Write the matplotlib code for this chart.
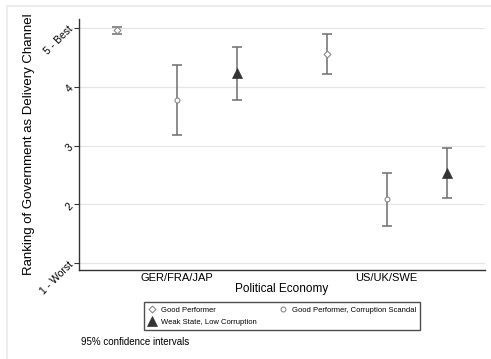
import matplotlib
matplotlib.use("Agg")
import matplotlib.pyplot as plt
from matplotlib.lines import Line2D

plt.rcParams['font.family'] = ['Liberation Sans', 'DejaVu Sans']

groups = ["GER/FRA/JAP", "US/UK/SWE"]
series = ["Good Performer", "Good Performer, Corruption Scandal", "Weak State, Low Corruption"]
means = {
    "Good Performer": [4.96, 4.56],
    "Good Performer, Corruption Scandal": [3.77, 2.09],
    "Weak State, Low Corruption": [4.23, 2.54],
}
lower = {
    "Good Performer": [4.90, 4.22],
    "Good Performer, Corruption Scandal": [3.18, 1.64],
    "Weak State, Low Corruption": [3.77, 2.11],
}
upper = {
    "Good Performer": [5.02, 4.89],
    "Good Performer, Corruption Scandal": [4.37, 2.54],
    "Weak State, Low Corruption": [4.68, 2.96],
}
ytick_vals = [1, 2, 3, 4, 5]
ytick_labels = ["1 - Worst", "2", "3", "4", "5 - Best"]

group_centers = [3, 10]
offsets = [-2, 0, 2]
styles = {
    "Good Performer": dict(marker='D', ms=3.5, mfc='white', mec='#8a8a8a', mew=0.8),
    "Good Performer, Corruption Scandal": dict(marker='o', ms=3.5, mfc='white', mec='#8a8a8a', mew=0.8),
    "Weak State, Low Corruption": dict(marker='^', ms=7, mfc='#333333', mec='#333333', mew=0.5),
}

fig = plt.figure(figsize=(4.91, 3.59), dpi=100)
fig.add_artist(Line2D([7/491, 7/491], [0, 1-6/359], color='#ececec', lw=1.5))
fig.add_artist(Line2D([7/491, 1], [1-6/359, 1-6/359], color='#ececec', lw=1.5))

ax = fig.add_axes([79/491, 1-270/359, 406/491, 251/359])
for s, off in zip(series, offsets):
    xs = [c + off for c in group_centers]
    m = means[s]
    yerr = [[mi - lo for mi, lo in zip(m, lower[s])], [up - mi for mi, up in zip(m, upper[s])]]
    ax.errorbar(xs, m, yerr=yerr, fmt='none', ecolor='#6e6e6e', elinewidth=1.1, capsize=3.5, capthick=1.1, zorder=2)
    ax.plot(xs, m, linestyle='none', zorder=3, **styles[s])

ax.set_xlim(-0.257, 13.28)
ax.set_ylim(0.886, 5.153)
ax.set_yticks(ytick_vals)
ax.set_yticklabels(ytick_labels, fontsize=7.5)
for lab in ax.get_yticklabels():
    lab.set_rotation(45)
    lab.set_rotation_mode('anchor')
    lab.set_ha('right')
    lab.set_va('center')
ax.set_xticks(group_centers)
ax.set_xticklabels(groups, fontsize=8)
ax.tick_params(axis='x', length=0, pad=2)
ax.tick_params(axis='y', length=3.6, width=0.8, color='#333333', pad=2)
ax.grid(axis='y', color='#e6e6e6', lw=0.9)
ax.set_axisbelow(True)
for sp in ['top', 'right']:
    ax.spines[sp].set_visible(False)
ax.spines['left'].set_color('#333333')
ax.spines['bottom'].set_color('#333333')
ax.spines['left'].set_linewidth(1.0)
ax.spines['bottom'].set_linewidth(1.0)
ax.set_ylabel("Ranking of Government as Delivery Channel", fontsize=9.5)
ax.yaxis.set_label_coords((35-79)/406, 0.5)
ax.set_xlabel("Political Economy", fontsize=8.5, labelpad=0)

handles = [Line2D([], [], linestyle='none', **styles[s]) for s in series]
leg = fig.legend([handles[0], handles[2], handles[1]], [series[0], series[2], series[1]],
                 ncol=2, loc='upper left', bbox_to_anchor=(140/491, 1-298/359),
                 fontsize=5.5, frameon=True, fancybox=False, edgecolor='#222222',
                 handletextpad=0.6, columnspacing=3.0, borderpad=0.6, labelspacing=0.6,
                 handlelength=1.0)
leg.get_frame().set_linewidth(1.0)

fig.text(81/491, 1-342/359, "95% confidence intervals", fontsize=7, va='center', ha='left')

fig.savefig("out.png", dpi=100)
